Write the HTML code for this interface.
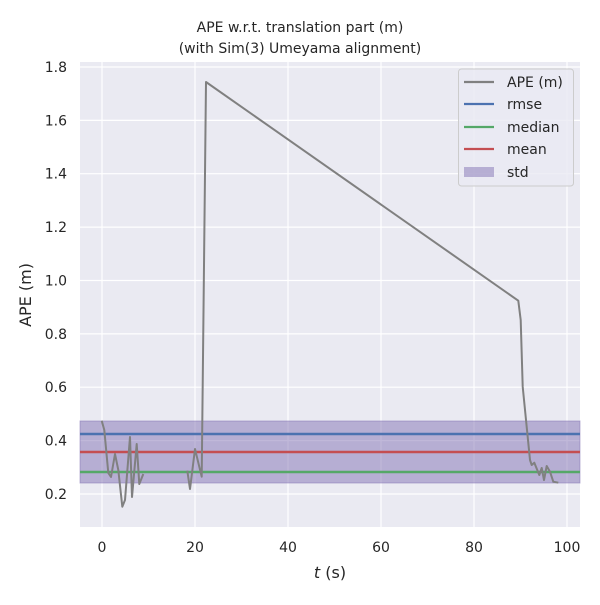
<!DOCTYPE html>
<html><head><style>body{margin:0;background:#fff}</style></head><body>
<svg width="600" height="600" xmlns="http://www.w3.org/2000/svg" font-family="'DejaVu Sans','Liberation Sans',sans-serif">
<rect x="80" y="62" width="500" height="465" fill="#eaeaf2"/>
<g stroke="#fff" stroke-width="1.2">
<line x1="102" y1="62" x2="102" y2="527"/><line x1="195" y1="62" x2="195" y2="527"/><line x1="288" y1="62" x2="288" y2="527"/><line x1="381" y1="62" x2="381" y2="527"/><line x1="474" y1="62" x2="474" y2="527"/><line x1="567" y1="62" x2="567" y2="527"/>
<line x1="80" y1="494" x2="580" y2="494"/><line x1="80" y1="440.6" x2="580" y2="440.6"/><line x1="80" y1="387.2" x2="580" y2="387.2"/><line x1="80" y1="333.9" x2="580" y2="333.9"/><line x1="80" y1="280.5" x2="580" y2="280.5"/><line x1="80" y1="227.1" x2="580" y2="227.1"/><line x1="80" y1="173.7" x2="580" y2="173.7"/><line x1="80" y1="120.4" x2="580" y2="120.4"/><line x1="80" y1="67" x2="580" y2="67"/>
</g>
<rect x="80" y="421" width="500" height="62" fill="#8172b3" fill-opacity="0.5" stroke="#8172b3" stroke-opacity="0.5"/>
<line x1="80" y1="434" x2="580" y2="434" stroke="#4c72b0" stroke-width="2.5"/>
<line x1="80" y1="452" x2="580" y2="452" stroke="#c44e52" stroke-width="2.5"/>
<line x1="80" y1="472" x2="580" y2="472" stroke="#55a868" stroke-width="2.5"/>
<g fill="none" stroke="#808080" stroke-width="2" stroke-linejoin="round">
<polyline points="101.7,420.7 104.3,430 108.3,473 111,477 115,454 118.3,470 122.3,506.7 125,500 130,437 132,497 136.7,444 139.3,484 143.3,474"/>
<polyline points="187.3,470.7 190,489 195,449 201.7,476.7 206,82 518.3,300.7 520.7,320 522.7,386.7 527.3,433 530,460 531.7,465 534.3,462.7 539.3,475 541.7,468 544,480 546.7,466 550,471.7 553.3,481.7 558.3,482.7"/>
</g>
<g font-size="14" fill="#262626">
<text x="300" y="32" text-anchor="middle" font-size="14">APE w.r.t. translation part (m)</text>
<text x="300" y="53" text-anchor="middle" font-size="14">(with Sim(3) Umeyama alignment)</text>
<g text-anchor="middle" font-size="14">
<text x="102" y="552">0</text><text x="195" y="552">20</text><text x="288" y="552">40</text><text x="381" y="552">60</text><text x="474" y="552">80</text><text x="567" y="552">100</text></g>
<g text-anchor="end" font-size="14">
<text x="67" y="499">0.2</text><text x="67" y="445.6">0.4</text><text x="67" y="392.2">0.6</text><text x="67" y="338.9">0.8</text><text x="67" y="285.5">1.0</text><text x="67" y="232.1">1.2</text><text x="67" y="178.7">1.4</text><text x="67" y="125.4">1.6</text><text x="67" y="72">1.8</text></g>
<text x="330" y="578" text-anchor="middle" font-size="16"><tspan font-style="italic">t</tspan> (s)</text>
<text transform="translate(31,295) rotate(-90)" text-anchor="middle" font-size="16">APE (m)</text>
</g>
<rect x="458.5" y="69" width="115" height="117" rx="3" fill="#eaeaf2" fill-opacity="0.8" stroke="#cccccc"/>
<g stroke-width="2.2">
<line x1="464" y1="82" x2="494" y2="82" stroke="#808080"/>
<line x1="464" y1="104" x2="494" y2="104" stroke="#4c72b0"/>
<line x1="464" y1="127" x2="494" y2="127" stroke="#55a868"/>
<line x1="464" y1="149" x2="494" y2="149" stroke="#c44e52"/>
</g>
<rect x="464" y="167" width="30" height="10" fill="#8172b3" fill-opacity="0.5"/>
<g font-size="14" fill="#262626">
<text x="507" y="87">APE (m)</text><text x="507" y="109">rmse</text><text x="507" y="132">median</text><text x="507" y="154">mean</text><text x="507" y="177">std</text>
</g>
</svg>
</body></html>
